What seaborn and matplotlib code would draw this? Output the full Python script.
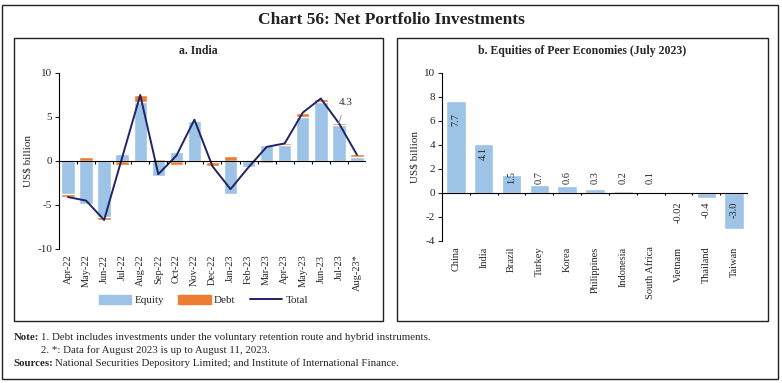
import numpy as np
import pandas as pd
import matplotlib
matplotlib.use("Agg")
import matplotlib.pyplot as plt
from matplotlib.patches import Rectangle
from matplotlib.lines import Line2D
import seaborn as sns

# data
months = ['Apr-22', 'May-22', 'Jun-22', 'Jul-22', 'Aug-22', 'Sep-22', 'Oct-22', 'Nov-22', 'Dec-22',
          'Jan-23', 'Feb-23', 'Mar-23', 'Apr-23', 'May-23', 'Jun-23', 'Jul-23', 'Aug-23*']
equity = [-3.8, -4.9, -6.4, 0.85, 6.75, -1.7, 1.05, 4.6, -0.15, -3.75, -0.7, 1.85, 1.85, 5.0, 6.75, 4.1, 0.45]
debt = [-0.3, 0.4, -0.3, -0.45, 0.75, 0.2, -0.45, 0.1, -0.45, 0.55, 0.0, -0.25, 0.15, 0.5, 0.35, 0.2, 0.3]
total = [-4.1, -4.5, -6.7, 0.4, 7.5, -1.5, 0.6, 4.7, -0.6, -3.2, -0.7, 1.6, 2.0, 5.5, 7.1, 4.3, 0.7]

peers = ['China', 'India', 'Brazil', 'Turkey', 'Korea', 'Philippines', 'Indonesia', 'South Africa',
         'Vietnam', 'Thailand', 'Taiwan']
peer_vals = [7.7, 4.1, 1.5, 0.7, 0.6, 0.3, 0.2, 0.1, -0.02, -0.4, -3.0]
peer_labels = ['7.7', '4.1', '1.5', '0.7', '0.6', '0.3', '0.2', '0.1', '-0.02', '-0.4', '-3.0']

BLUE = '#9dc3e6'
ORANGE = '#ed7d31'
NAVY = '#1f2466'

sns.set_style('white')
plt.rcParams['font.family'] = ['Liberation Serif', 'DejaVu Serif']
plt.rcParams['axes.linewidth'] = 0.8
plt.rcParams['axes.unicode_minus'] = False

fig = plt.figure(figsize=(7.82, 3.83), dpi=100)

# frames
fig.add_artist(Rectangle((0.003, 0.010), 0.992, 0.977, transform=fig.transFigure,
                         fill=False, edgecolor='#222222', linewidth=1.0))
fig.add_artist(Rectangle((0.018, 0.162), 0.472, 0.739, transform=fig.transFigure,
                         fill=False, edgecolor='#222222', linewidth=1.0))
fig.add_artist(Rectangle((0.508, 0.162), 0.474, 0.739, transform=fig.transFigure,
                         fill=False, edgecolor='#222222', linewidth=1.0))

fig.text(0.5, 0.948, 'Chart 56: Net Portfolio Investments', ha='center', va='center',
         fontsize=12.5, fontweight='bold', color='#222222')
fig.text(0.254, 0.868, 'a. India', ha='center', va='center', fontsize=8.5, fontweight='bold')
fig.text(0.745, 0.868, 'b. Equities of Peer Economies (July 2023)', ha='center', va='center',
         fontsize=8.5, fontweight='bold')

# ---- panel a ----
ax1 = fig.add_axes([0.0754, 0.3499, 0.3926, 0.4595])
df = pd.DataFrame({'month': months, 'equity': equity, 'debt': debt, 'total': total})
# stacked: debt sits on equity when same sign, otherwise starts from zero
df['debt_top'] = np.where(np.sign(df['debt']) == np.sign(df['equity']), df['equity'] + df['debt'], df['debt'])
sns.barplot(data=df, x='month', y='debt_top', color=ORANGE, saturation=1, width=0.74, ax=ax1)
sns.barplot(data=df, x='month', y='equity', color=BLUE, saturation=1, width=0.74, ax=ax1)
sns.lineplot(x=np.arange(len(months)), y=df['total'], color=NAVY, linewidth=1.4, ax=ax1)
ax1.set_ylim(-10, 10)
ax1.set_xlim(-0.5, len(months) - 0.5)
ax1.set_yticks([-10, -5, 0, 5, 10])
ax1.axhline(0, color='black', linewidth=0.8)
ax1.vlines(np.arange(len(months) + 1) - 0.5, 0, -0.35, color='black', linewidth=0.8)
ax1.set_xticks(range(len(months)))
ax1.set_xticklabels(months, rotation=90, fontsize=7.5)
ax1.tick_params(axis='x', length=0, pad=4)
ax1.tick_params(axis='y', length=3, direction='out', left=True, labelsize=8, pad=2)
for s in ['top', 'right', 'bottom']:
    ax1.spines[s].set_visible(False)
ax1.spines['left'].set_color('black')
ax1.set_xlabel('')
ax1.set_ylabel('US$ billion', fontsize=8, labelpad=3)
ax1.annotate(f'{total[15]:.1f}', xy=(15, total[15]), xytext=(15.35, 6.7), fontsize=8,
             ha='center', va='center', color='#333333',
             arrowprops=dict(arrowstyle='-', color='#aaaaaa', linewidth=0.8, shrinkA=4, shrinkB=0))

handles = [Rectangle((0, 0), 1, 1, color=BLUE), Rectangle((0, 0), 1, 1, color=ORANGE),
           Line2D([0], [0], color=NAVY, linewidth=1.4)]
fig.legend(handles, ['Equity', 'Debt', 'Total'], loc='center', bbox_to_anchor=(0.26, 0.217),
           ncol=3, frameon=False, fontsize=8, handlelength=2.9, handleheight=0.9,
           columnspacing=1.3, handletextpad=0.3)

# ---- panel b ----
ax2 = fig.add_axes([0.5652, 0.3708, 0.3913, 0.4386])
sns.barplot(x=peers, y=peer_vals, color=BLUE, saturation=1, width=0.7, ax=ax2)
ax2.set_ylim(-4, 10)
ax2.set_xlim(-0.5, len(peers) - 0.5)
ax2.set_yticks(range(-4, 11, 2))
ax2.axhline(0, color='black', linewidth=0.8)
ax2.vlines(np.arange(len(peers) + 1) - 0.5, 0, -0.15, color='black', linewidth=0.8)
ax2.set_xticks(range(len(peers)))
ax2.set_xticklabels(peers, rotation=90, fontsize=7.5)
ax2.tick_params(axis='x', length=0, pad=4)
ax2.tick_params(axis='y', length=3, direction='out', left=True, labelsize=8, pad=2)
for s in ['top', 'right', 'bottom']:
    ax2.spines[s].set_visible(False)
ax2.spines['left'].set_color('black')
ax2.set_ylabel('US$ billion', fontsize=8, labelpad=3)
for i, (v, lab) in enumerate(zip(peer_vals, peer_labels)):
    if v >= 4:
        ax2.text(i, 0.8 * v, lab, rotation=90, ha='center', va='center', fontsize=7.5)
    elif v >= 0:
        ax2.text(i, 0.75, lab, rotation=90, ha='center', va='bottom', fontsize=7.5)
    else:
        ax2.text(i, -0.7, lab, rotation=90, ha='center', va='top', fontsize=7.5)

# notes
fig.text(0.017, 0.120, 'Note:', fontsize=7.8, fontweight='bold', va='center')
fig.text(0.052, 0.120, '1. Debt includes investments under the voluntary retention route and hybrid instruments.',
         fontsize=7.8, va='center')
fig.text(0.052, 0.086, '2. *: Data for August 2023 is up to August 11, 2023.', fontsize=7.8, va='center')
fig.text(0.017, 0.052, 'Sources:', fontsize=7.8, fontweight='bold', va='center')
fig.text(0.070, 0.052, 'National Securities Depository Limited; and Institute of International Finance.',
         fontsize=7.8, va='center')

fig.savefig('out.png', dpi=100)
